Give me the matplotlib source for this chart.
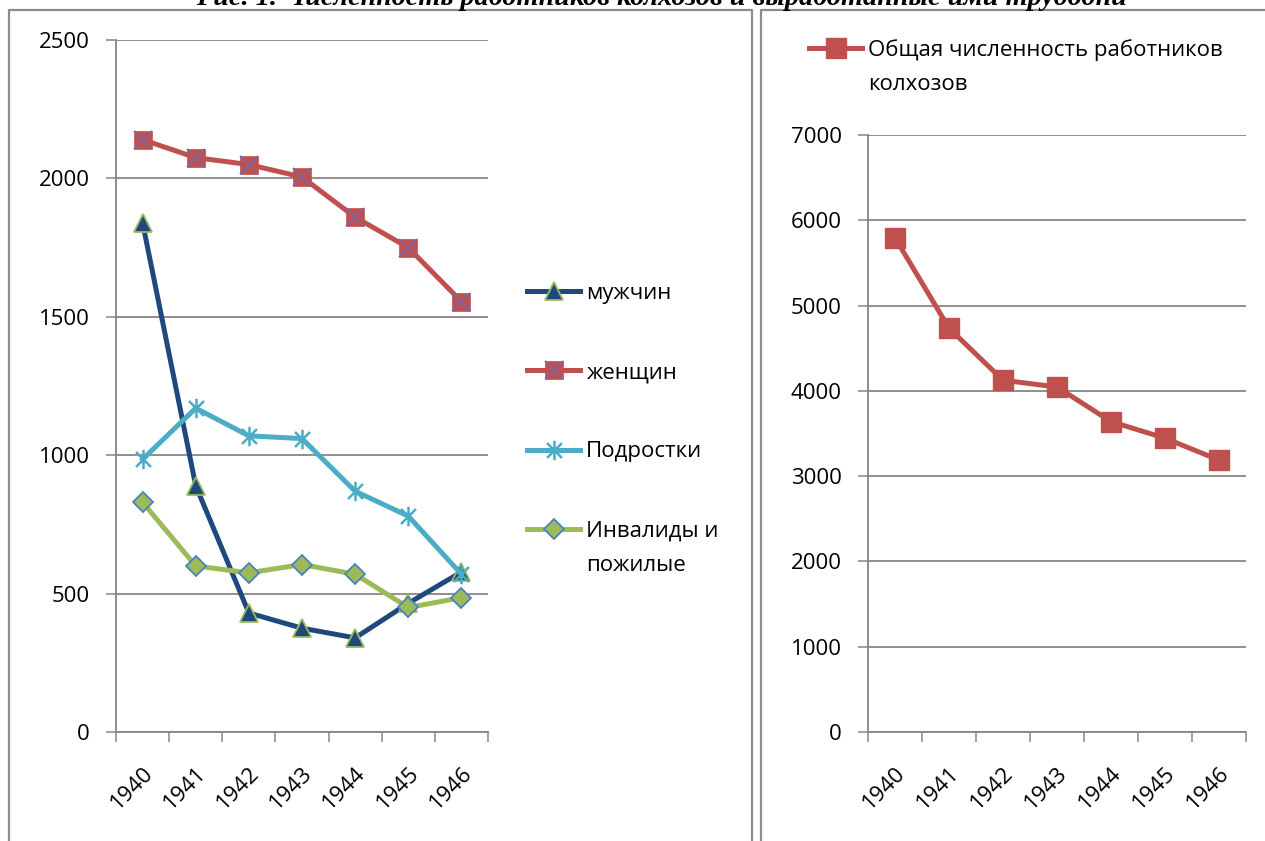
import matplotlib
matplotlib.use("Agg")
import matplotlib.pyplot as plt
from matplotlib.path import Path
from matplotlib.lines import Line2D
from matplotlib.legend_handler import HandlerTuple

plt.rcParams['font.family'] = ['Open Sans', 'DejaVu Sans']

years = ['1940', '1941', '1942', '1943', '1944', '1945', '1946']
men = [1840, 890, 430, 375, 340, 465, 578]
women = [2140, 2075, 2050, 2005, 1860, 1750, 1555]
teens = [985, 1170, 1070, 1060, 870, 780, 570]
elderly = [830, 600, 575, 605, 570, 450, 485]
total = [5795, 4735, 4125, 4045, 3640, 3445, 3188]

left_ticks = [0, 500, 1000, 1500, 2000, 2500]
right_ticks = [0, 1000, 2000, 3000, 4000, 5000, 6000, 7000]

title = 'Рис. 1. Численность работников колхозов и выработанные ими трудодни'

W, H = 1265, 841
FS = 16
GRAY = '#868686'

# Excel-like "star" marker: an X with a vertical bar
star = Path([(-1, -1), (1, 1), (-1, 1), (1, -1), (0, -1.3), (0, 1.3)],
            [Path.MOVETO, Path.LINETO, Path.MOVETO, Path.LINETO, Path.MOVETO, Path.LINETO])

fig = plt.figure(figsize=(W / 100, H / 100), dpi=100)


def fx(px):
    return px / W


def fy(py):
    return 1 - py / H


def style_axes(ax, ticks, top):
    x = list(range(len(years)))
    ax.set_xlim(-0.5, len(years) - 0.5)
    ax.set_ylim(0, top)
    ax.set_yticks(ticks)
    ax.set_xticks(x)
    ax.set_xticklabels(years, rotation=45, ha='right', va='top', rotation_mode='anchor')
    ax.set_xticks([i - 0.5 for i in range(len(years) + 1)], minor=True)
    ax.tick_params(axis='x', which='major', length=0, pad=22, labelsize=FS)
    ax.tick_params(axis='x', which='minor', length=7, width=1.1, color=GRAY, direction='out')
    ax.tick_params(axis='y', length=7, width=1.1, color=GRAY, pad=12, labelsize=FS)
    for s in ['top', 'right']:
        ax.spines[s].set_visible(False)
    for s in ['left', 'bottom']:
        ax.spines[s].set_color(GRAY)
        ax.spines[s].set_linewidth(1.3)
    ax.yaxis.grid(True, color=GRAY, linewidth=1.3)
    ax.set_axisbelow(True)
    ax.set_facecolor('none')


# panel frames
fig.add_artist(Line2D([fx(9), fx(9), fx(752), fx(752)], [0, fy(10), fy(10), 0],
                      transform=fig.transFigure, color='#8c8c8c', lw=1.6))
fig.add_artist(Line2D([fx(761), fx(761), 1.01], [0, fy(10), fy(10)],
                      transform=fig.transFigure, color='#8c8c8c', lw=1.6))

fig.text(fx(661), fy(5), title, ha='center', va='baseline', fontsize=20.3,
         family='Liberation Serif', fontweight='bold', fontstyle='italic')

# left chart
ax1 = fig.add_axes([fx(116), fy(732), fx(488 - 116), (732 - 40) / H])
x = list(range(len(years)))
l_men, = ax1.plot(x, men, color='#1F497D', lw=3.6, marker='^', ms=13,
                  mfc='#1F497D', mec='#9BBB59', mew=1.3)
l_wom, = ax1.plot(x, women, color='#C0504D', lw=3.6, marker='s', ms=12.5,
                  mfc='#C0504D', mec='#C0504D', mew=0.5)
l_womx, = ax1.plot(x, women, ls='none', marker='x', ms=12.5, mec='#8064A2', mew=1.4)
l_teen, = ax1.plot(x, teens, color='#4BACC6', lw=3.6, marker=star, ms=14,
                   mfc='none', mec='#4BACC6', mew=1.8)
l_eld, = ax1.plot(x, elderly, color='#9BBB59', lw=3.6, marker='D', ms=10.5,
                  mfc='#9BBB59', mec='#4F81BD', mew=1.3)
style_axes(ax1, left_ticks, 2500)

leg1 = fig.legend([l_men, (l_wom, l_womx), l_teen, l_eld],
                  ['мужчин', 'женщин', 'Подростки', 'Инвалиды и'],
                  handler_map={tuple: HandlerTuple(ndivide=1)},
                  loc='upper left', bbox_to_anchor=(fx(527), fy(283)),
                  frameon=False, fontsize=FS, handlelength=2.4, handletextpad=0.25,
                  borderpad=0, borderaxespad=0, labelspacing=2.62)

# right chart
ax2 = fig.add_axes([fx(868), fy(732), fx(1246 - 868), (732 - 135) / H])
l_tot, = ax2.plot(x, total, color='#C0504D', lw=3.6, marker='s', ms=14,
                  mfc='#C0504D', mec='#C0504D')
style_axes(ax2, right_ticks, 7000)

leg2 = fig.legend([l_tot], ['Общая численность работников'],
                  loc='upper left', bbox_to_anchor=(fx(809), fy(39)),
                  frameon=False, fontsize=FS, handlelength=2.4, handletextpad=0.25,
                  borderpad=0, borderaxespad=0)

# second lines of the wrapped legend labels
fig.canvas.draw()
inv = fig.transFigure.inverted()
for leg, extra in [(leg1, 'пожилые'), (leg2, 'колхозов')]:
    bb = leg.get_texts()[-1].get_window_extent()
    x0, y0 = inv.transform((bb.x0, bb.y0))
    fig.text(x0, y0 - 34 / H, extra, ha='left', va='bottom', fontsize=FS)

fig.savefig('out.png', dpi=100)
